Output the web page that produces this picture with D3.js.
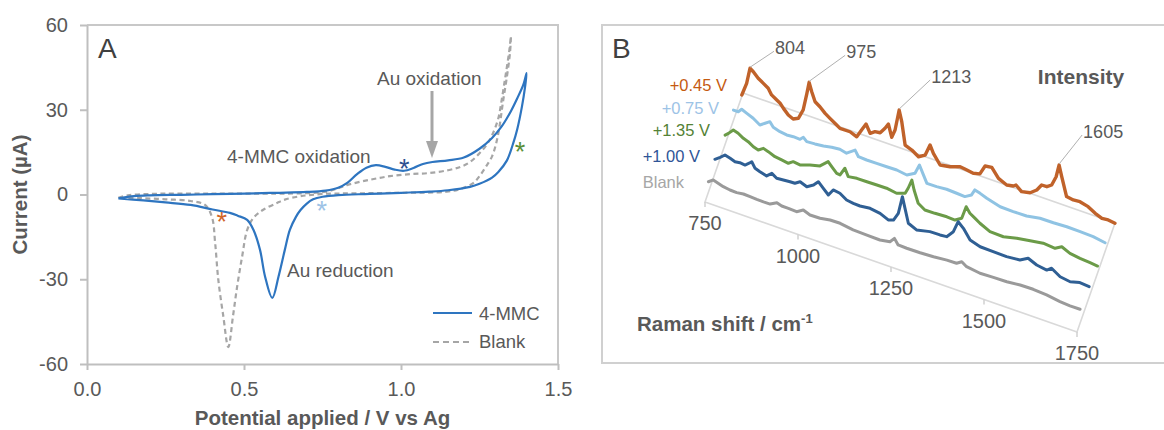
<!DOCTYPE html>
<html>
<head>
<meta charset="utf-8">
<script src="https://cdn.jsdelivr.net/npm/d3@7"></script>
<style>
	body { margin: 0; background: #fff; }
	svg { display: block; font-family: "Liberation Sans", Arial, sans-serif; }
</style>
</head>
<body>
<svg id="chart" width="1164" height="430"></svg>
<script>
// ---- panel A: cyclic voltammograms (E in V, I in µA), one full cycle from 0.1 V
const mmcE = [0.10, 0.15, 0.20, 0.30, 0.40, 0.50, 0.60, 0.70, 0.76, 0.80, 0.83, 0.86, 0.89, 0.92, 0.95, 0.98, 1.01, 1.04, 1.07, 1.10, 1.15, 1.20, 1.25, 1.29, 1.32, 1.35, 1.37, 1.39, 1.40,
	1.395, 1.385, 1.37, 1.357, 1.337, 1.31, 1.29, 1.25, 1.22, 1.15, 1.09, 1.00, 0.90, 0.80, 0.75, 0.72, 0.70, 0.68, 0.665, 0.646, 0.63, 0.61, 0.59, 0.567, 0.551, 0.53, 0.51, 0.48, 0.455, 0.40, 0.33, 0.25, 0.18, 0.10];
const mmcI = [-1.4, -0.6, -0.3, -0.1, 0.1, 0.3, 0.6, 0.9, 1.4, 2.4, 4.2, 7.2, 9.5, 10.4, 9.8, 8.8, 8.4, 9.4, 10.8, 11.5, 12.1, 13.1, 16.2, 20, 24, 29.5, 34, 39, 43,
	38, 31, 23, 18, 12, 8, 6, 3.8, 2.7, 1.5, 1.0, 0.6, 0.2, -0.2, -0.8, -1.7, -3.2, -5.5, -8, -12.5, -19.6, -29, -36.6, -29, -19.6, -12.5, -9, -7.5, -6.5, -5.3, -3.7, -2.8, -2.1, -1.4];
const blankE = [0.10, 0.13, 0.20, 0.40, 0.60, 0.70, 0.76, 0.80, 0.83, 0.90, 0.965, 1.03, 1.09, 1.15, 1.19, 1.22, 1.25, 1.275, 1.293, 1.31, 1.32, 1.33, 1.337, 1.345, 1.35,
	1.347, 1.335, 1.325, 1.315, 1.305, 1.29, 1.27, 1.25, 1.23, 1.19, 1.146, 1.00, 0.85, 0.75, 0.68, 0.63, 0.605, 0.56, 0.53, 0.51, 0.494, 0.478, 0.465, 0.45, 0.434, 0.418, 0.408, 0.398, 0.376, 0.33, 0.25, 0.17, 0.10];
const blankI = [-1.2, -0.3, 0.2, 0.3, 0.3, 0.5, 1.0, 2.2, 3.4, 5.2, 6.5, 7.2, 7.6, 8.6, 9.8, 11.5, 14.6, 18, 21.7, 27, 33, 40, 45, 51, 56,
	50, 40, 33, 25, 19, 13.5, 9.8, 6.5, 4, 2, 1.0, 0.6, 0.4, 0.2, -0.6, -1.8, -3, -5.5, -8.3, -12.6, -22, -32.7, -43, -54, -43, -30, -17, -8, -3.7, -2.3, -1.7, -1.3, -1.2];
const cvTicksX = [0, 0.5, 1.0, 1.5];
const cvTicksY = [-60, -30, 0, 30, 60];
const starE = [0.429, 1.01, 0.748, 1.379];
const starI = [-7.6, 11.3, -3.7, 17.3];
const starColors = ['#d0652a', '#2f4f8f', '#9dc3e6', '#5b8f3a'];

// ---- panel B: SERS spectra [Raman shift cm-1, intensity a.u.], front (Blank) to back (+0.45 V)
const specBlank = [[749,9.2],[762,12.7],[776,11.1],[789,9.5],[807,8.5],[825,8.2],[843,9.2],[861,8.8],[879,8.5],[897,8.4],[915,8.5],[933,12.1],[946,10.6],[964,10.6],[986,10.1],[1004,14.1],[1022,11.5],[1049,11.7],[1076,13.5],[1103,13.7],[1138,11.6],[1175,11.3],[1210,10.9],[1237,12.7],[1249,17.6],[1259,12.3],[1282,12],[1318,12.2],[1354,12.9],[1390,14.2],[1416,14.4],[1430,17.8],[1443,14.5],[1479,12.6],[1515,13.2],[1551,13.5],[1587,14.9],[1622,15.2],[1658,14.2],[1694,12.2],[1721,11.4],[1748,11.6]];
const spec100 = [[746,9.5],[760,13.3],[773,17.3],[787,15.8],[800,14.1],[813,14.8],[827,14.3],[838,17.5],[845,19.9],[854,14.5],[867,12.8],[885,10.9],[899,15.3],[912,12.1],[930,12.7],[948,13.3],[961,13.5],[975,16.8],[993,14.2],[1011,18.2],[1024,23.2],[1037,18.4],[1051,13.4],[1064,20.2],[1082,19.2],[1100,14.8],[1118,13.8],[1136,13.5],[1163,14.7],[1190,13.2],[1212,9.4],[1226,11.1],[1239,19.6],[1250,37.6],[1257,26.9],[1266,13.1],[1288,9.3],[1324,12.3],[1351,12.5],[1369,13.1],[1387,20.4],[1400,32.1],[1414,27.3],[1432,17.9],[1459,14.7],[1494,14.4],[1530,14.1],[1566,15.4],[1588,20],[1611,16.2],[1638,14.7],[1651,18.2],[1674,12.7],[1701,11.2],[1727,13.7],[1752,12.9]];
const spec135 = [[753,12.8],[762,15.7],[775,20.8],[788,19.2],[802,15.9],[815,14.3],[829,11],[842,9.5],[856,12.9],[869,11.3],[887,8.6],[905,7.7],[923,6.7],[936,10],[954,9.1],[981,12.6],[1008,15.1],[1030,22.3],[1040,18.4],[1053,13.6],[1062,13.1],[1075,21.5],[1084,14.3],[1107,15.6],[1134,15.7],[1161,15.9],[1187,16.1],[1214,14.6],[1237,17.5],[1245,23.6],[1255,33.1],[1261,23.9],[1272,12.1],[1290,7.7],[1317,7.9],[1349,8.6],[1371,8.2],[1389,12.3],[1401,25.4],[1411,20.2],[1425,16.9],[1438,13.7],[1465,8.8],[1501,8.4],[1537,11.5],[1573,13.7],[1608,15.8],[1640,14.9],[1658,18.8],[1680,15.1],[1707,13.6],[1734,12.7],[1754,12]];
const spec075 = [[755,16.3],[768,16.3],[777,19.9],[791,17.7],[808,15],[826,10.6],[840,14.1],[853,17.4],[862,13],[880,10.9],[898,10],[916,10.6],[934,10.3],[943,13.5],[952,10.3],[974,10.9],[997,11.8],[1019,13.4],[1041,14.3],[1059,12.7],[1082,18.8],[1091,13.3],[1113,12.9],[1140,13.1],[1167,13.2],[1194,13.4],[1221,11.9],[1243,16.5],[1255,26.3],[1264,19.2],[1275,10.6],[1301,10.7],[1328,11.6],[1355,11.1],[1377,10.6],[1395,14.6],[1404,20.8],[1418,19.2],[1436,16.6],[1472,12.8],[1507,12.5],[1543,12.8],[1579,15.2],[1615,15.4],[1651,16.1],[1687,15.8],[1722,15.4],[1754,13.5]];
const spec045 = [[757,9.8],[770,23.2],[779,39.4],[788,37.1],[801,32.3],[815,29],[828,25.8],[837,20.3],[851,17],[860,14.9],[869,11],[882,6.1],[895,3.8],[909,6.3],[922,16.3],[932,34.2],[938,46],[945,37.5],[954,28.7],[967,25.4],[981,20.6],[994,17.3],[1012,13],[1021,10.8],[1048,10.9],[1066,8.2],[1079,16.7],[1091,24.2],[1102,16.3],[1115,19.7],[1129,20.4],[1142,26.6],[1151,32],[1160,19.9],[1169,28.4],[1180,49.8],[1187,39],[1196,16.8],[1214,14.2],[1232,9.8],[1250,13.8],[1263,25.6],[1272,18.4],[1290,9.1],[1317,10.9],[1344,14.4],[1362,13.4],[1379,12.4],[1397,14.1],[1411,23.8],[1429,24.8],[1447,16.2],[1469,12.4],[1487,13.7],[1494,15.6],[1509,10.9],[1532,12.8],[1550,17.9],[1563,24.6],[1577,24.7],[1590,28.1],[1602,37.9],[1610,50.7],[1617,39.9],[1630,21.7],[1648,20.7],[1666,21.3],[1688,19.2],[1707,15],[1725,12.3],[1742,12.9],[1760,11.9]];
const specNames = ['Blank', '+1.00 V', '+1.35 V', '+0.75 V', '+0.45 V'];
const specColors = ['#9a9a9a', '#2f5f94', '#6b9b48', '#8fc3e3', '#c0622a'];
const labelColors = ['#a6a6a6', '#2f5597', '#548235', '#9dc3e6', '#c55a11'];
const ramanTicks = [750, 1000, 1250, 1500, 1750];
const peakLabels = ['804', '975', '1213', '1605'];
const peakAt = [779, 938, 1180, 1610];

const textColor = '#595959';
const axisColor = '#bfbfbf';

const svg = d3.select('#chart');

// ================= panel A =================
const x = d3.scaleLinear().domain([0, 1.5]).range([87, 558]);
const y = d3.scaleLinear().domain([-60, 60]).range([364, 25]);

const gA = svg.append('g');

// frame
gA.append('path')
	.attr('d', `M${x(0)},${y(60)}H${x(1.5)}V${y(-60)}`)
	.attr('fill', 'none').attr('stroke', '#c8c8c8').attr('stroke-width', 2);

const yAxis = gA.append('g')
	.attr('transform', `translate(${x(0)},0)`)
	.call(d3.axisLeft(y).tickValues(cvTicksY).tickFormat(d => String(d)).tickSize(7).tickSizeOuter(0).tickPadding(12));
const xAxis = gA.append('g')
	.attr('transform', `translate(0,${y(-60)})`)
	.call(d3.axisBottom(x).tickValues(cvTicksX).tickFormat(d => d.toFixed(1)).tickSize(6).tickSizeOuter(0).tickPadding(12));
[xAxis, yAxis].forEach(a => {
	a.select('.domain').attr('stroke', axisColor).attr('stroke-width', 2);
	a.selectAll('.tick line').attr('stroke', axisColor).attr('stroke-width', 2);
	a.selectAll('.tick text').attr('fill', textColor).style('font-size', '20px');
});

gA.append('text')
	.attr('x', x(0.75)).attr('y', 425)
	.attr('text-anchor', 'middle')
	.attr('fill', textColor).style('font-size', '20.5px').style('font-weight', 'bold')
	.text('Potential applied / V vs Ag');
gA.append('text')
	.attr('transform', `translate(27,${y(0)}) rotate(-90)`)
	.attr('text-anchor', 'middle')
	.attr('fill', textColor).style('font-size', '20.5px').style('font-weight', 'bold')
	.text('Current (µA)');

const cvLine = d3.line()
	.x(d => x(d[0]))
	.y(d => y(d[1]))
	.curve(d3.curveCatmullRom.alpha(0.5));

gA.append('path')
	.datum(blankE.map((e, i) => [e, blankI[i]]))
	.attr('d', cvLine)
	.attr('fill', 'none').attr('stroke', '#a6a6a6').attr('stroke-width', 2.2)
	.attr('stroke-dasharray', '5,3.5');
gA.append('path')
	.datum(mmcE.map((e, i) => [e, mmcI[i]]))
	.attr('d', cvLine)
	.attr('fill', 'none').attr('stroke', '#2e75c0').attr('stroke-width', 2.2);

// stars
gA.selectAll('text.star')
	.data(starE)
	.enter()
	.append('text')
	.attr('class', 'star')
	.attr('x', d => x(d))
	.attr('y', (d, i) => y(starI[i]) + 15)
	.attr('text-anchor', 'middle')
	.attr('fill', (d, i) => starColors[i])
	.style('font-size', '27px')
	.text('*');

// annotations
gA.append('text').attr('x', 98).attr('y', 58)
	.attr('fill', '#404040').style('font-size', '28px').text('A');
gA.append('text').attr('x', 227).attr('y', 163)
	.attr('fill', textColor).style('font-size', '19px').text('4-MMC oxidation');
gA.append('text').attr('x', 377).attr('y', 85)
	.attr('fill', textColor).style('font-size', '19px').text('Au oxidation');
gA.append('text').attr('x', 287).attr('y', 277)
	.attr('fill', textColor).style('font-size', '19px').text('Au reduction');

// arrow for Au oxidation
gA.append('line')
	.attr('x1', 432).attr('y1', 91).attr('x2', 432).attr('y2', 145)
	.attr('stroke', '#a6a6a6').attr('stroke-width', 3);
gA.append('path')
	.attr('d', 'M426,141L438,141L432,158Z')
	.attr('fill', '#a6a6a6');

// legend
const legend = gA.append('g');
legend.append('line').attr('x1', 433).attr('x2', 472).attr('y1', 313).attr('y2', 313)
	.attr('stroke', '#2e75c0').attr('stroke-width', 2.2);
legend.append('line').attr('x1', 433).attr('x2', 472).attr('y1', 342).attr('y2', 342)
	.attr('stroke', '#a6a6a6').attr('stroke-width', 2.2).attr('stroke-dasharray', '6,4');
legend.append('text').attr('x', 479).attr('y', 320)
	.attr('fill', textColor).style('font-size', '18.5px').text('4-MMC');
legend.append('text').attr('x', 479).attr('y', 348)
	.attr('fill', textColor).style('font-size', '18.5px').text('Blank');

// ================= panel B =================
const gB = svg.append('g');
gB.append('rect')
	.attr('x', 602).attr('y', 25).attr('width', 600).attr('height', 338)
	.attr('fill', 'none').attr('stroke', '#d0d0d0').attr('stroke-width', 2);
gB.append('text').attr('x', 612).attr('y', 58)
	.attr('fill', '#404040').style('font-size', '28px').text('B');

// oblique projection of (shift, depth, intensity)
const bx = d3.scaleLinear().domain([750, 1750]).range([705, 1077]);
const by = d3.scaleLinear().domain([750, 1750]).range([202, 332]);
const dpx = d3.scaleLinear().domain([0, 1]).range([0, 38]);
const dpy = d3.scaleLinear().domain([0, 1]).range([0, -109]);
const iy = d3.scaleLinear().domain([0, 50]).range([0, 50]);
const proj = (s, dep, v) => [bx(s) + dpx(dep), by(s) + dpy(dep) - iy(v)];

// floor
const floor = [[750, 0], [1750, 0], [1750, 1], [750, 1]].map(p => proj(p[0], p[1], 0));
gB.append('path')
	.attr('d', 'M' + floor.join('L') + 'Z')
	.attr('fill', 'none').attr('stroke', '#d9d9d9').attr('stroke-width', 1.6);

gB.selectAll('line.rtick')
	.data(ramanTicks)
	.enter()
	.append('line')
	.attr('class', 'rtick')
	.attr('x1', d => proj(d, 0, 0)[0]).attr('x2', d => proj(d, 0, 0)[0])
	.attr('y1', d => proj(d, 0, 0)[1]).attr('y2', d => proj(d, 0, 0)[1] + 5)
	.attr('stroke', '#d0d0d0').attr('stroke-width', 1.5);
gB.selectAll('text.rlab')
	.data(ramanTicks)
	.enter()
	.append('text')
	.attr('class', 'rlab')
	.attr('x', d => proj(d, 0, 0)[0])
	.attr('y', d => proj(d, 0, 0)[1] + 28)
	.attr('text-anchor', 'middle')
	.attr('fill', textColor).style('font-size', '20px')
	.text(d => d);

const specs = [specBlank, spec100, spec135, spec075, spec045];
const specLine = d3.line().curve(d3.curveLinear);

// back to front so front traces sit on top
specs.map((s, i) => ({ s, i })).reverse().forEach(({ s, i }) => {
	const dep = (i + 0.5) / specs.length;
	gB.append('path')
		.attr('d', specLine(s.map(p => proj(p[0], dep, p[1]))))
		.attr('fill', 'none')
		.attr('stroke', specColors[i])
		.attr('stroke-width', i === 4 ? 3.4 : 3)
		.attr('stroke-linejoin', 'round')
		.attr('stroke-linecap', 'round');
});

// series labels
const labelEnd = [684, 700, 710, 719, 727];
const labelMid = [181.5, 156, 130, 108, 85];
gB.selectAll('text.slab')
	.data(specNames)
	.enter()
	.append('text')
	.attr('class', 'slab')
	.attr('x', (d, i) => labelEnd[i])
	.attr('y', (d, i) => labelMid[i] + 6)
	.attr('text-anchor', 'end')
	.attr('fill', (d, i) => labelColors[i])
	.style('font-size', '16.5px')
	.text(d => d);

// peak callouts on the +0.45 V trace
const peakOffset = [[24, -17], [36, -27], [31, -30], [23, -30]];
peakLabels.forEach((lab, i) => {
	const pt = spec045.reduce((a, b) => Math.abs(b[0] - peakAt[i]) < Math.abs(a[0] - peakAt[i]) ? b : a);
	const p = proj(pt[0], 0.9, pt[1]);
	const e = [p[0] + peakOffset[i][0], p[1] + peakOffset[i][1]];
	gB.append('line')
		.attr('x1', p[0]).attr('y1', p[1] - 1).attr('x2', e[0]).attr('y2', e[1])
		.attr('stroke', '#b0b0b0').attr('stroke-width', 1);
	gB.append('text')
		.attr('x', e[0] + 1).attr('y', e[1] + 3)
		.attr('fill', textColor).style('font-size', '18px')
		.text(lab);
});

gB.append('text')
	.attr('x', 1081).attr('y', 84)
	.attr('text-anchor', 'middle')
	.attr('fill', textColor).style('font-size', '21px').style('font-weight', 'bold')
	.text('Intensity');
const ramanTitle = gB.append('text')
	.attr('x', 637).attr('y', 331)
	.attr('fill', textColor).style('font-size', '20.5px').style('font-weight', 'bold');
ramanTitle.append('tspan').text('Raman shift / cm');
ramanTitle.append('tspan').attr('dy', -8).style('font-size', '13px').text('-1');
</script>
</body>
</html>
